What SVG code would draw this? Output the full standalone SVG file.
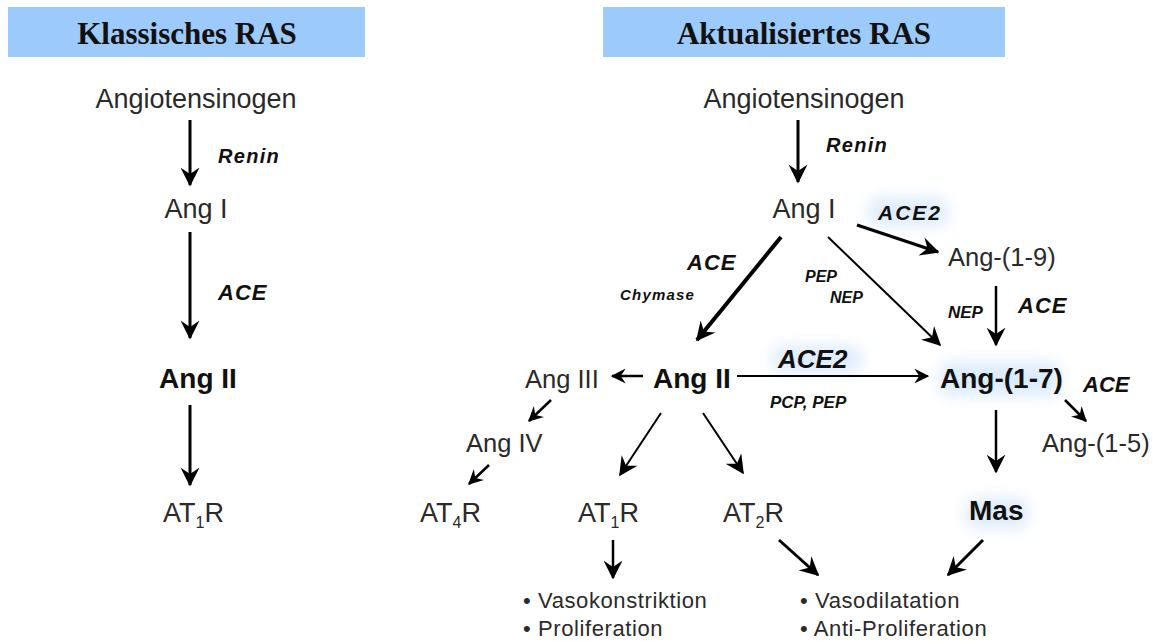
<svg xmlns="http://www.w3.org/2000/svg" width="1153" height="641" viewBox="0 0 1153 641">
<style>
.title{font-family:"Liberation Serif",serif;font-weight:bold;font-size:31px;fill:#111;text-anchor:middle}
.n{font-family:"Liberation Sans",Arial,sans-serif;font-size:27px;fill:#2a2a2a}
.m{font-family:"Liberation Sans",Arial,sans-serif;font-size:25.5px;fill:#2a2a2a}
.b{font-family:"Liberation Sans",Arial,sans-serif;font-size:28px;font-weight:bold;fill:#111}
.lbl{font-family:"Liberation Sans",Arial,sans-serif;font-style:italic;font-weight:bold;fill:#111}
.s{font-family:"Liberation Sans",Arial,sans-serif;font-size:22px;letter-spacing:0.6px;fill:#2a2a2a}
.c{stroke:#000;fill:none}
.sub{font-size:16px}
</style>
<defs>
<marker id="ah" viewBox="0 0 12 12" refX="11" refY="6" markerWidth="15" markerHeight="15" markerUnits="userSpaceOnUse" orient="auto">
<path d="M0,0 L12,6 L0,12 L4,6 z" fill="#000"/>
</marker>
<marker id="ahl" viewBox="0 0 12 12" refX="11" refY="6" markerWidth="19" markerHeight="19" markerUnits="userSpaceOnUse" orient="auto">
<path d="M0,0 L12,6 L0,12 L4,6 z" fill="#000"/>
</marker>
<filter id="glow" x="-50%" y="-50%" width="200%" height="200%"><feGaussianBlur stdDeviation="8"/></filter>
</defs>
<rect width="1153" height="641" fill="#fff"/>
<g id="glows" filter="url(#glow)" fill="#dcebfc">
<rect x="868" y="198" width="80" height="28" rx="10"/>
<rect x="772" y="346" width="90" height="26" rx="10"/>
<rect x="940" y="362" width="120" height="34" rx="10"/>
<rect x="966" y="498" width="62" height="30" rx="10"/>
</g>
<g id="title-left"><rect x="8" y="7" width="357" height="50" fill="#9ccbfb"/><text class="title" x="187" y="44">Klassisches RAS</text></g>
<g id="title-right"><rect x="603" y="7" width="402" height="50" fill="#9ccbfb"/><text class="title" x="804" y="44">Aktualisiertes RAS</text></g>

<g id="l-angiotensinogen"><text class="n" x="196" y="108" text-anchor="middle">Angiotensinogen</text></g>
<g id="l-angI"><text class="n" x="196" y="218" text-anchor="middle">Ang I</text></g>
<g id="l-angII"><text class="b" x="198" y="388" text-anchor="middle">Ang II</text></g>
<g id="l-at1r"><text class="n" x="163" y="522">AT<tspan class="sub" dy="6">1</tspan><tspan dy="-6">R</tspan></text></g>

<g id="r-angiotensinogen"><text class="n" x="804" y="108" text-anchor="middle">Angiotensinogen</text></g>
<g id="r-angI"><text class="n" x="804" y="218" text-anchor="middle">Ang I</text></g>
<g id="r-ang19"><text class="m" x="948" y="266">Ang-(1-9)</text></g>
<g id="r-angII"><text class="b" x="653" y="388">Ang II</text></g>
<g id="r-angIII"><text class="m" x="525" y="388">Ang III</text></g>
<g id="r-ang17"><text class="b" x="940" y="388">Ang-(1-7)</text></g>
<g id="r-angIV"><text class="m" x="466" y="452">Ang IV</text></g>
<g id="r-ang15"><text class="m" x="1042" y="452">Ang-(1-5)</text></g>
<g id="r-at4r"><text class="n" x="420" y="522">AT<tspan class="sub" dy="6">4</tspan><tspan dy="-6">R</tspan></text></g>
<g id="r-at1r"><text class="n" x="578" y="522">AT<tspan class="sub" dy="6">1</tspan><tspan dy="-6">R</tspan></text></g>
<g id="r-at2r"><text class="n" x="723" y="522">AT<tspan class="sub" dy="6">2</tspan><tspan dy="-6">R</tspan></text></g>
<g id="r-mas"><text class="b" x="969" y="520">Mas</text></g>
<g id="r-effects1"><text class="s" x="523" y="608">• Vasokonstriktion</text><text class="s" x="523" y="636">• Proliferation</text></g>
<g id="r-effects2"><text class="s" x="800" y="608">• Vasodilatation</text><text class="s" x="800" y="636">• Anti-Proliferation</text></g>

<g id="connectors">
<line class="c" stroke-width="3" x1="190" y1="120" x2="190" y2="185" marker-end="url(#ahl)"/>
<line class="c" stroke-width="3" x1="190" y1="232" x2="190" y2="338" marker-end="url(#ahl)"/>
<line class="c" stroke-width="3" x1="190" y1="405" x2="190" y2="485" marker-end="url(#ahl)"/>
<line class="c" stroke-width="3" x1="798" y1="120" x2="798" y2="182" marker-end="url(#ahl)"/>
<line class="c" stroke-width="3" x1="857" y1="225" x2="938" y2="252" marker-end="url(#ahl)"/>
<line class="c" stroke-width="2.5" x1="996" y1="286" x2="996" y2="345" marker-end="url(#ahl)"/>
<line class="c" stroke-width="4" x1="781" y1="237" x2="697" y2="340" marker-end="url(#ahl)"/>
<line class="c" stroke-width="2" x1="828" y1="237" x2="940" y2="345" marker-end="url(#ahl)"/>
<line class="c" stroke-width="2.5" x1="643" y1="376" x2="612" y2="376" marker-end="url(#ah)"/>
<line class="c" stroke-width="2" x1="737" y1="376" x2="928" y2="376" marker-end="url(#ah)"/>
<line class="c" stroke-width="2.5" x1="1065" y1="400" x2="1086" y2="421" marker-end="url(#ah)"/>
<line class="c" stroke-width="2.5" x1="996" y1="410" x2="996" y2="472" marker-end="url(#ahl)"/>
<line class="c" stroke-width="2.5" x1="551" y1="400" x2="529" y2="421" marker-end="url(#ah)"/>
<line class="c" stroke-width="2.5" x1="489" y1="465" x2="469" y2="484" marker-end="url(#ah)"/>
<line class="c" stroke-width="2" x1="661" y1="413" x2="620" y2="475" marker-end="url(#ahl)"/>
<line class="c" stroke-width="2" x1="703" y1="413" x2="743" y2="473" marker-end="url(#ahl)"/>
<line class="c" stroke-width="2.5" x1="613" y1="540" x2="613" y2="578" marker-end="url(#ahl)"/>
<line class="c" stroke-width="3" x1="779" y1="540" x2="818" y2="575" marker-end="url(#ahl)"/>
<line class="c" stroke-width="3" x1="983" y1="540" x2="948" y2="575" marker-end="url(#ahl)"/>
</g>

<g id="labels">
<text class="lbl" x="218" y="163" font-size="20" letter-spacing="1.3">Renin</text>
<text class="lbl" x="218" y="300" font-size="22" letter-spacing="1">ACE</text>
<text class="lbl" x="826" y="152" font-size="20" letter-spacing="1.3">Renin</text>
<text class="lbl" x="878" y="220" font-size="21" letter-spacing="2">ACE2</text>
<text class="lbl" x="948" y="318" font-size="17">NEP</text>
<text class="lbl" x="1018" y="313" font-size="22" letter-spacing="1">ACE</text>
<text class="lbl" x="687" y="270" font-size="22" letter-spacing="1">ACE</text>
<text class="lbl" x="620" y="300" font-size="15" letter-spacing="1.2">Chymase</text>
<text class="lbl" x="805" y="282" font-size="16">PEP</text>
<text class="lbl" x="830" y="303" font-size="16">NEP</text>
<text class="lbl" x="778" y="368" font-size="26">ACE2</text>
<text class="lbl" x="770" y="408" font-size="17">PCP, PEP</text>
<text class="lbl" x="1083" y="392" font-size="22">ACE</text>
</g>
</svg>
